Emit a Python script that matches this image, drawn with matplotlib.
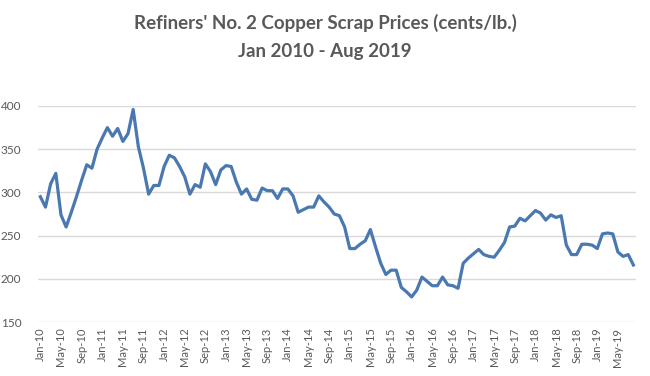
import matplotlib
matplotlib.use('Agg')
from matplotlib import pyplot as plt
import pandas as pd

# monthly prices, Jan 2010 .. Aug 2019 (cents/lb.)
prices = [
    295, 283, 310, 322, 274, 260, 277, 295, 314, 332, 328, 350,
    363, 375, 365, 374, 359, 368, 396, 353, 328, 298, 308, 308,
    330, 343, 340, 330, 318, 298, 309, 306, 333, 324, 309, 326,
    331, 330, 312, 298, 304, 292, 291, 305, 302, 302, 293, 304,
    304, 296, 277, 280, 283, 283, 296, 289, 283, 275, 273, 260,
    235, 235, 240, 244, 257, 237, 218, 205, 210, 210, 190, 185,
    179, 187, 202, 197, 192, 192, 202, 193, 192, 189, 218, 224,
    229, 234, 228, 226, 225, 233, 242, 260, 261, 270, 267, 273,
    279, 276, 268, 274, 271, 273, 239, 228, 228, 240, 240, 239,
    235, 252, 253, 252, 231, 226, 228, 216,
]
months = pd.date_range('2010-01-01', periods=len(prices), freq='MS')
tick_labels = [m.strftime('%b-%y') for m in months[::4]]
y_ticks = [150, 200, 250, 300, 350, 400]

title_lines = ["Refiners' No. 2 Copper Scrap Prices (cents/lb.)",
               "Jan 2010 - Aug 2019"]


def main():
    plt.rcParams['font.family'] = ['Lato', 'DejaVu Sans']
    grey = '#595959'

    fig = plt.figure(figsize=(6.5, 3.76), dpi=100)
    ax = fig.add_axes([0.0585, 0.1436, 0.9195, 0.5745])

    x = list(range(len(prices)))
    ax.plot(x, prices, color='#4A78B0', linewidth=2.3, solid_joinstyle='round')

    ax.set_xlim(-0.45, len(prices) - 0.55)
    ax.set_ylim(150, 400)
    ax.set_yticks(y_ticks)
    ax.set_xticks(x[::4])
    ax.set_xticklabels(tick_labels, rotation=90, fontsize=8, color=grey)
    ax.tick_params(axis='y', labelsize=8.5, colors=grey, length=0, pad=12)
    ax.tick_params(axis='x', length=0, pad=4)

    ax.grid(axis='y', color='#D9D9D9', linewidth=1.0)
    ax.set_axisbelow(True)
    for side in ['top', 'right', 'left', 'bottom']:
        ax.spines[side].set_visible(False)

    fig.text(0.5, 0.94, title_lines[0], ha='center', va='center',
             fontsize=13.5, fontweight='bold', color=grey)
    fig.text(0.5, 0.862, title_lines[1], ha='center', va='center',
             fontsize=13.5, fontweight='bold', color=grey)

    fig.savefig('out.png', dpi=100, facecolor='white')


if __name__ == '__main__':
    main()
